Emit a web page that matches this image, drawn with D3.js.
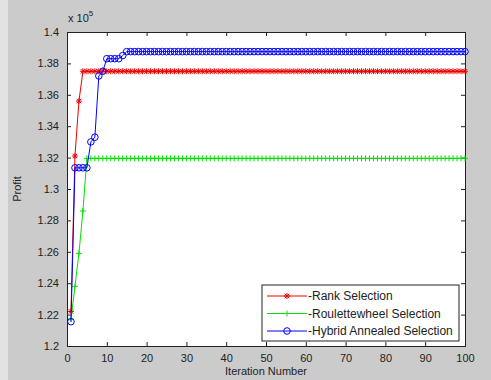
<html>
<head>
<meta charset="utf-8">
<title>Profit vs Iteration</title>
<style>
  body { margin: 0; background: #cbcbcb; }
  text { font-family: "Liberation Sans", Arial, sans-serif; fill: #222; }
  .axis path, .axis line { stroke: #222; }
</style>
</head>
<body>
<script src="https://cdn.jsdelivr.net/npm/d3@7"></script>
<script>
var width = 491, height = 380;
var margin = {top: 32, right: 26, bottom: 34, left: 67};

// iteration numbers 1..100
var iterations = d3.range(1, 101);

// values (x 10^5)
var rankSel = [
  1.222, 1.321, 1.356, 1.375, 1.375, 1.375, 1.375, 1.375, 1.375, 1.375,
  1.375, 1.375, 1.375, 1.375, 1.375, 1.375, 1.375, 1.375, 1.375, 1.375,
  1.375, 1.375, 1.375, 1.375, 1.375, 1.375, 1.375, 1.375, 1.375, 1.375,
  1.375, 1.375, 1.375, 1.375, 1.375, 1.375, 1.375, 1.375, 1.375, 1.375,
  1.375, 1.375, 1.375, 1.375, 1.375, 1.375, 1.375, 1.375, 1.375, 1.375,
  1.375, 1.375, 1.375, 1.375, 1.375, 1.375, 1.375, 1.375, 1.375, 1.375,
  1.375, 1.375, 1.375, 1.375, 1.375, 1.375, 1.375, 1.375, 1.375, 1.375,
  1.375, 1.375, 1.375, 1.375, 1.375, 1.375, 1.375, 1.375, 1.375, 1.375,
  1.375, 1.375, 1.375, 1.375, 1.375, 1.375, 1.375, 1.375, 1.375, 1.375,
  1.375, 1.375, 1.375, 1.375, 1.375, 1.375, 1.375, 1.375, 1.375, 1.375
];
var rouletteSel = [
  1.217, 1.238, 1.259, 1.286, 1.3195, 1.3195, 1.3195, 1.3195, 1.3195, 1.3195,
  1.3195, 1.3195, 1.3195, 1.3195, 1.3195, 1.3195, 1.3195, 1.3195, 1.3195, 1.3195,
  1.3195, 1.3195, 1.3195, 1.3195, 1.3195, 1.3195, 1.3195, 1.3195, 1.3195, 1.3195,
  1.3195, 1.3195, 1.3195, 1.3195, 1.3195, 1.3195, 1.3195, 1.3195, 1.3195, 1.3195,
  1.3195, 1.3195, 1.3195, 1.3195, 1.3195, 1.3195, 1.3195, 1.3195, 1.3195, 1.3195,
  1.3195, 1.3195, 1.3195, 1.3195, 1.3195, 1.3195, 1.3195, 1.3195, 1.3195, 1.3195,
  1.3195, 1.3195, 1.3195, 1.3195, 1.3195, 1.3195, 1.3195, 1.3195, 1.3195, 1.3195,
  1.3195, 1.3195, 1.3195, 1.3195, 1.3195, 1.3195, 1.3195, 1.3195, 1.3195, 1.3195,
  1.3195, 1.3195, 1.3195, 1.3195, 1.3195, 1.3195, 1.3195, 1.3195, 1.3195, 1.3195,
  1.3195, 1.3195, 1.3195, 1.3195, 1.3195, 1.3195, 1.3195, 1.3195, 1.3195, 1.3195
];
var hybridSel = [
  1.2155, 1.3135, 1.3135, 1.3135, 1.3135, 1.330, 1.333, 1.372, 1.375, 1.383,
  1.383, 1.383, 1.383, 1.385, 1.3875, 1.3875, 1.3875, 1.3875, 1.3875, 1.3875,
  1.3875, 1.3875, 1.3875, 1.3875, 1.3875, 1.3875, 1.3875, 1.3875, 1.3875, 1.3875,
  1.3875, 1.3875, 1.3875, 1.3875, 1.3875, 1.3875, 1.3875, 1.3875, 1.3875, 1.3875,
  1.3875, 1.3875, 1.3875, 1.3875, 1.3875, 1.3875, 1.3875, 1.3875, 1.3875, 1.3875,
  1.3875, 1.3875, 1.3875, 1.3875, 1.3875, 1.3875, 1.3875, 1.3875, 1.3875, 1.3875,
  1.3875, 1.3875, 1.3875, 1.3875, 1.3875, 1.3875, 1.3875, 1.3875, 1.3875, 1.3875,
  1.3875, 1.3875, 1.3875, 1.3875, 1.3875, 1.3875, 1.3875, 1.3875, 1.3875, 1.3875,
  1.3875, 1.3875, 1.3875, 1.3875, 1.3875, 1.3875, 1.3875, 1.3875, 1.3875, 1.3875,
  1.3875, 1.3875, 1.3875, 1.3875, 1.3875, 1.3875, 1.3875, 1.3875, 1.3875, 1.3875
];

var xTicks = [0, 10, 20, 30, 40, 50, 60, 70, 80, 90, 100];
var yTicks = [1.2, 1.22, 1.24, 1.26, 1.28, 1.3, 1.32, 1.34, 1.36, 1.38, 1.4];
var legendNames = ["-Rank Selection", "-Roulettewheel Selection", "-Hybrid Annealed Selection"];

var series = [
  {name: legendNames[0], values: rankSel, color: "#f00000", marker: "star"},
  {name: legendNames[1], values: rouletteSel, color: "#00e000", marker: "plus"},
  {name: legendNames[2], values: hybridSel, color: "#0000ff", marker: "circle"}
];

var svg = d3.select("body").append("svg")
  .attr("width", width)
  .attr("height", height);

// light strip at the left edge of the figure
svg.append("rect").attr("x", 0).attr("y", 0).attr("width", 8).attr("height", height).attr("fill", "#e2e2e2");

var iw = width - margin.left - margin.right,
    ih = height - margin.top - margin.bottom;

var x = d3.scaleLinear().domain([0, 100]).range([0, iw]);
var y = d3.scaleLinear().domain([1.2, 1.4]).range([ih, 0]);

var g = svg.append("g").attr("transform", "translate(" + margin.left + "," + margin.top + ")");

g.append("rect").attr("width", iw).attr("height", ih).attr("fill", "white");

// axes, MATLAB style: ticks point inward, box on
g.append("g").attr("class", "axis")
  .attr("transform", "translate(0," + ih + ")")
  .call(d3.axisBottom(x).tickValues(xTicks).tickSize(-4).tickPadding(8).tickFormat(d3.format("d")))
  .call(function(s){ s.selectAll("text").style("font-size", "11px"); });
g.append("g").attr("class", "axis")
  .call(d3.axisTop(x).tickValues(xTicks).tickSize(-4).tickFormat(""));
g.append("g").attr("class", "axis")
  .call(d3.axisLeft(y).tickValues(yTicks).tickSize(-4).tickPadding(8).tickFormat(function(d){ return d3.format("")(+d.toFixed(2)); }))
  .call(function(s){ s.selectAll("text").style("font-size", "11px"); });
g.append("g").attr("class", "axis")
  .attr("transform", "translate(" + iw + ",0)")
  .call(d3.axisRight(y).tickValues(yTicks).tickSize(-4).tickFormat(""));
g.selectAll(".axis .domain").attr("stroke", "#222");

// exponent label
var ex = svg.append("text").attr("x", margin.left + 1).attr("y", 22).style("font-size", "11px");
ex.append("tspan").text("x 10");
ex.append("tspan").attr("dy", -6).style("font-size", "8px").text("5");

// axis titles
svg.append("text")
  .attr("x", margin.left + iw / 2).attr("y", 375)
  .attr("text-anchor", "middle").style("font-size", "11px")
  .text("Iteration Number");
svg.append("text")
  .attr("transform", "translate(21," + (margin.top + ih / 2) + ") rotate(-90)")
  .attr("text-anchor", "middle").style("font-size", "11px")
  .text("Profit");

var line = d3.line()
  .x(function(d, i){ return x(iterations[i]); })
  .y(function(d){ return y(d); });

function drawMarker(sel, type, color) {
  if (type === "circle") {
    sel.append("circle").attr("r", 3.3).attr("fill", "none").attr("stroke", color).attr("stroke-width", 1);
  } else if (type === "plus") {
    sel.append("path").attr("d", "M-3,0H3M0,-3V3").attr("stroke", color).attr("stroke-width", 1);
  } else {
    sel.append("path").attr("d", "M-3,0H3M0,-3V3M-2.2,-2.2L2.2,2.2M-2.2,2.2L2.2,-2.2").attr("stroke", color).attr("stroke-width", 1);
  }
}

var plot = g.append("g");
series.forEach(function(s) {
  plot.append("path").datum(s.values)
    .attr("fill", "none").attr("stroke", s.color).attr("stroke-width", 1)
    .attr("d", line);
  plot.selectAll(".m-" + s.marker).data(s.values).enter()
    .append("g").attr("class", "m-" + s.marker)
    .attr("transform", function(d, i){ return "translate(" + x(iterations[i]) + "," + y(d) + ")"; })
    .each(function(){ drawMarker(d3.select(this), s.marker, s.color); });
});

// legend
var lg = svg.append("g").attr("transform", "translate(262,285)");
lg.append("rect").attr("width", 197).attr("height", 56).attr("fill", "white").attr("stroke", "#222");
series.forEach(function(s, i) {
  var row = lg.append("g").attr("transform", "translate(0," + (11 + i * 17.5) + ")");
  row.append("line").attr("x1", 5).attr("x2", 45).attr("stroke", s.color).attr("stroke-width", 1);
  var m = row.append("g").attr("transform", "translate(25,0)");
  drawMarker(m, s.marker, s.color);
  row.append("text").attr("x", 46).attr("y", 4).style("font-size", "12px").text(s.name);
});
</script>
</body>
</html>
